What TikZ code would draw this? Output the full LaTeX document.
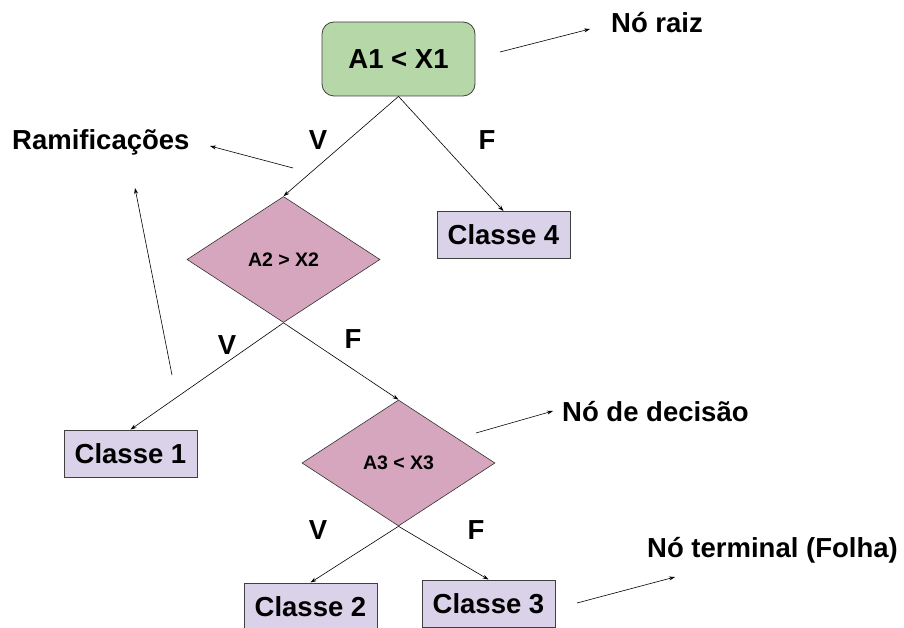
\documentclass[tikz,border=0pt]{standalone}
\usepackage{fontspec}
\setmainfont{Liberation Sans}
\usetikzlibrary{arrows.meta}
\usetikzlibrary{positioning}
\usetikzlibrary{shapes.geometric}
\definecolor{raizgreen}{HTML}{B6D7A8}
\definecolor{folhalilac}{HTML}{D9D2E9}
\definecolor{decpink}{HTML}{D5A6BD}

\begin{document}
\begin{tikzpicture}[x=1pt,y=-1pt]
	\tikzset{
	  bigtxt/.style={font=\fontsize{27.5}{30}\selectfont\bfseries},
	  raiz/.style={draw=black!75,line width=0.8pt,fill=raizgreen,rounded corners=12pt,
	    minimum width=153pt,minimum height=74pt,inner sep=0pt,bigtxt},
	  folha/.style={draw=black!75,line width=0.9pt,fill=folhalilac,
	    minimum width=133pt,minimum height=47pt,inner sep=0pt,bigtxt},
	  decisao/.style={diamond,fill=decpink,draw=black!80,line width=0.6pt,
	    minimum width=193pt,minimum height=126pt,inner sep=0pt,
	    font=\fontsize{19.5}{22}\selectfont\bfseries},
	  ramo/.style={line width=0.6pt,-{Stealth[length=6pt,width=4pt]}},
	  rotulo/.style={bigtxt,inner sep=0pt,anchor=base west}
	}
	\useasboundingbox (0,0) rectangle (904,628);
	%NODES
	\node[raiz] (r) at (398.5,59) {A1 < X1};
	\node[decisao] (d1) at (283.5,259.5) {A2 > X2};
	\node[decisao] (d2) at (398.5,463) {A3 < X3};
	\node[folha] (c4) at (503.5,235) {Classe 4};
	\node[folha] (c1) at (130.5,453.5) {Classe 1};
	\node[folha] (c2) at (310.5,606.5) {Classe 2};
	\node[folha] (c3) at (488.5,603.5) {Classe 3};
	%EDGES
	\foreach \a/\b in {r/d1,r/c4,d1/c1,d1/d2,d2/c2,d2/c3} {
		\draw[ramo] (\a.south) -- (\b.north) ;
	  }
	%V F
	\node[bigtxt] (v1) at (318,140) {V};
	\node[bigtxt] (f1) at (487,140) {F};
	\node[bigtxt] (v2) at (227,345) {V};
	\node[bigtxt] (f2) at (353,339) {F};
	\node[bigtxt] (v3) at (318,530) {V};
	\node[bigtxt] (f3) at (476,530) {F};
	%LABELS
	\node[rotulo] (lraiz) at (611,33) {Nó raiz};
	\node[rotulo] (lramo) at (12,150) {Ramificações};
	\node[rotulo] (ldec) at (562,421) {Nó de decisão};
	\node[rotulo] (lfolha) at (647,557) {Nó terminal (Folha)};
	\coordinate (a1) at (500,52);   \coordinate (b1) at (590,29);
	\coordinate (a2) at (293,168);  \coordinate (b2) at (210,146);
	\coordinate (a3) at (172,375);  \coordinate (b3) at (135,188);
	\coordinate (a4) at (476,433);  \coordinate (b4) at (553,411);
	\coordinate (a5) at (577,603);  \coordinate (b5) at (675,577);
	\foreach \i in {1,...,5} {
		\draw[ramo] (a\i) -- (b\i) ;
	  }
\end{tikzpicture}
\end{document}
